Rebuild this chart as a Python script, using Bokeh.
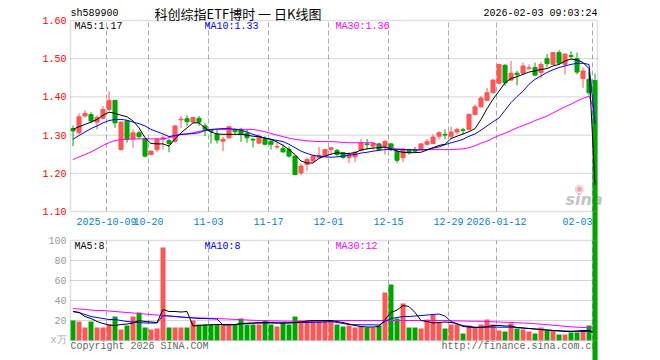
import pandas as pd
from bokeh.plotting import figure
from bokeh.models import (Range1d, LinearAxis, FixedTicker, Label, ColumnDataSource,
                          BoxAnnotation, PrintfTickFormatter)
from bokeh.transform import dodge
from bokeh.embed import file_html
from bokeh.resources import INLINE

# ---------------- data ----------------
holidays = ["2025-10-01", "2025-10-02", "2025-10-03", "2025-10-06", "2025-10-07",
            "2025-10-08", "2026-01-01", "2026-01-02"]
dates = [d.strftime("%Y-%m-%d") for d in pd.bdate_range("2025-09-23", "2026-02-03")
         if d.strftime("%Y-%m-%d") not in holidays]

tick_dates = ["2025-10-09", "2025-10-20", "2025-11-03", "2025-11-17", "2025-12-01",
              "2025-12-15", "2025-12-29", "2026-01-12", "2026-02-03"]
tick_labels = ["2025-10-09", "10-20", "11-03", "11-17", "12-01", "12-15", "12-29",
               "2026-01-12", "02-03"]
price_ticks = [1.10, 1.20, 1.30, 1.40, 1.50, 1.60]
vol_ticks = [0, 20, 40, 60, 80, 100]

opens = [1.317, 1.306, 1.350, 1.354, 1.334, 1.344, 1.367, 1.391, 1.262, 1.337,
         1.290, 1.306, 1.291, 1.249, 1.262, 1.289, 1.286, 1.284, 1.340, 1.343,
         1.334, 1.344, 1.324, 1.313, 1.302, 1.284, 1.293, 1.313, 1.315, 1.304,
         1.289, 1.279, 1.291, 1.284, 1.269, 1.265, 1.262, 1.245, 1.201, 1.223,
         1.232, 1.241, 1.245, 1.262, 1.260, 1.254, 1.241, 1.243, 1.260, 1.277,
         1.271, 1.277, 1.271, 1.277, 1.258, 1.241, 1.260, 1.262, 1.264, 1.276,
         1.278, 1.297, 1.302, 1.297, 1.308, 1.314, 1.315, 1.354, 1.374, 1.391,
         1.411, 1.436, 1.483, 1.444, 1.462, 1.462, 1.474, 1.477, 1.464, 1.500,
         1.485, 1.516, 1.485, 1.508, 1.500, 1.448, 1.446, 1.443]
highs = [1.325, 1.357, 1.365, 1.360, 1.352, 1.376, 1.415, 1.391, 1.336, 1.339,
         1.315, 1.312, 1.292, 1.260, 1.293, 1.299, 1.290, 1.326, 1.350, 1.352,
         1.348, 1.350, 1.332, 1.315, 1.315, 1.296, 1.324, 1.319, 1.319, 1.315,
         1.292, 1.302, 1.297, 1.290, 1.280, 1.276, 1.270, 1.247, 1.226, 1.241,
         1.249, 1.269, 1.264, 1.269, 1.264, 1.256, 1.254, 1.258, 1.290, 1.290,
         1.280, 1.280, 1.286, 1.280, 1.260, 1.267, 1.264, 1.269, 1.279, 1.290,
         1.302, 1.310, 1.315, 1.322, 1.319, 1.319, 1.357, 1.380, 1.402, 1.424,
         1.446, 1.487, 1.485, 1.494, 1.468, 1.490, 1.485, 1.490, 1.492, 1.512,
         1.518, 1.523, 1.514, 1.520, 1.516, 1.477, 1.464, 1.461]
lows = [1.271, 1.302, 1.346, 1.332, 1.315, 1.341, 1.363, 1.319, 1.260, 1.280,
        1.267, 1.289, 1.241, 1.248, 1.255, 1.262, 1.255, 1.280, 1.319, 1.324,
        1.332, 1.324, 1.297, 1.278, 1.278, 1.258, 1.291, 1.302, 1.282, 1.280,
        1.268, 1.276, 1.273, 1.262, 1.264, 1.254, 1.241, 1.195, 1.195, 1.206,
        1.229, 1.239, 1.243, 1.250, 1.245, 1.239, 1.227, 1.229, 1.258, 1.262,
        1.262, 1.261, 1.249, 1.258, 1.227, 1.229, 1.249, 1.254, 1.262, 1.273,
        1.276, 1.289, 1.289, 1.289, 1.302, 1.302, 1.313, 1.352, 1.372, 1.389,
        1.409, 1.433, 1.429, 1.442, 1.430, 1.460, 1.471, 1.455, 1.450, 1.477,
        1.484, 1.485, 1.459, 1.500, 1.459, 1.424, 1.404, 0.0]
closes = [1.311, 1.348, 1.357, 1.337, 1.346, 1.367, 1.391, 1.332, 1.334, 1.289,
          1.306, 1.296, 1.245, 1.258, 1.289, 1.293, 1.278, 1.324, 1.342, 1.335,
          1.346, 1.334, 1.315, 1.310, 1.287, 1.289, 1.322, 1.309, 1.302, 1.293,
          1.287, 1.297, 1.276, 1.276, 1.270, 1.256, 1.245, 1.197, 1.219, 1.236,
          1.245, 1.247, 1.262, 1.267, 1.249, 1.241, 1.249, 1.255, 1.280, 1.275,
          1.278, 1.262, 1.284, 1.262, 1.234, 1.262, 1.254, 1.258, 1.277, 1.283,
          1.295, 1.306, 1.300, 1.308, 1.315, 1.312, 1.354, 1.374, 1.397, 1.411,
          1.444, 1.485, 1.437, 1.462, 1.458, 1.481, 1.476, 1.457, 1.485, 1.487,
          1.516, 1.488, 1.512, 1.506, 1.465, 1.468, 1.411, 0.0]
ma5 = [1.315, 1.322, 1.328, 1.334, 1.341, 1.352, 1.360, 1.357, 1.352, 1.348,
       1.337, 1.319, 1.293, 1.278, 1.277, 1.277, 1.271, 1.290, 1.306, 1.319,
       1.332, 1.332, 1.319, 1.308, 1.303, 1.302, 1.302, 1.302, 1.302, 1.300,
       1.297, 1.296, 1.292, 1.289, 1.282, 1.273, 1.262, 1.249, 1.232, 1.227,
       1.227, 1.239, 1.245, 1.250, 1.254, 1.252, 1.252, 1.254, 1.261, 1.264,
       1.266, 1.267, 1.269, 1.264, 1.258, 1.255, 1.254, 1.254, 1.255, 1.261,
       1.267, 1.273, 1.276, 1.291, 1.297, 1.303, 1.309, 1.317, 1.341, 1.369,
       1.394, 1.415, 1.437, 1.448, 1.453, 1.459, 1.465, 1.468, 1.472, 1.474,
       1.481, 1.485, 1.494, 1.499, 1.497, 1.490, 1.474, 1.17]
ma10 = [1.289, 1.299, 1.308, 1.317, 1.324, 1.332, 1.338, 1.341, 1.341, 1.339,
        1.334, 1.330, 1.324, 1.315, 1.309, 1.303, 1.296, 1.299, 1.302, 1.303,
        1.304, 1.306, 1.312, 1.315, 1.316, 1.317, 1.317, 1.315, 1.313, 1.308,
        1.302, 1.297, 1.292, 1.289, 1.286, 1.283, 1.276, 1.267, 1.258, 1.252,
        1.247, 1.245, 1.243, 1.242, 1.243, 1.245, 1.248, 1.249, 1.253, 1.255,
        1.258, 1.260, 1.262, 1.262, 1.262, 1.262, 1.262, 1.261, 1.261, 1.262,
        1.266, 1.269, 1.275, 1.280, 1.284, 1.289, 1.297, 1.303, 1.313, 1.324,
        1.335, 1.345, 1.365, 1.385, 1.401, 1.415, 1.433, 1.446, 1.455, 1.464,
        1.471, 1.477, 1.481, 1.485, 1.488, 1.488, 1.485, 1.33]
ma30 = [1.236, 1.243, 1.249, 1.256, 1.264, 1.273, 1.280, 1.286, 1.288, 1.289,
        1.290, 1.290, 1.290, 1.290, 1.290, 1.290, 1.293, 1.297, 1.302, 1.303,
        1.306, 1.310, 1.312, 1.314, 1.315, 1.315, 1.315, 1.315, 1.315, 1.315,
        1.315, 1.312, 1.309, 1.304, 1.300, 1.296, 1.292, 1.289, 1.287, 1.285,
        1.284, 1.283, 1.283, 1.283, 1.282, 1.281, 1.280, 1.280, 1.280, 1.280,
        1.280, 1.273, 1.267, 1.265, 1.264, 1.263, 1.262, 1.262, 1.262, 1.262,
        1.262, 1.262, 1.262, 1.262, 1.263, 1.264, 1.267, 1.272, 1.279, 1.284,
        1.292, 1.299, 1.305, 1.312, 1.319, 1.325, 1.331, 1.338, 1.344, 1.350,
        1.358, 1.366, 1.374, 1.381, 1.389, 1.396, 1.402, 1.36]
volumes = [20, 19, 13, 19, 13, 13, 16, 24, 11, 15,
           24, 28, 13, 11, 12, 93, 13, 13, 13, 13,
           20, 16, 16, 16, 16, 16, 16, 16, 22, 16,
           16, 16, 20, 16, 14, 18, 16, 24, 20, 20,
           20, 20, 20, 20, 16, 14, 15, 13, 14, 13,
           13, 15, 48, 56, 22, 37, 13, 13, 12, 21,
           26, 18, 12, 16, 16, 7, 15, 13, 16, 21,
           16, 10, 9, 17, 12, 11, 9, 7, 13, 10,
           10, 6, 6, 8, 8, 10, 15, 0.3]
vma5 = [29, 28, 24, 22, 19, 17, 15.5, 15, 16, 16.5,
        17.5, 20, 19, 18.5, 18, 31, 29, 29, 28.5, 29,
        14.5, 15, 15.5, 15.7, 16, 16, 16, 16, 17, 17.3,
        17.5, 18, 18, 18, 17.5, 17.5, 17.5, 18, 18.5, 19.5,
        20, 20, 20, 20, 19, 18, 16.5, 15, 14, 13.5,
        13.5, 14, 21, 28, 30.5, 35, 34, 28, 20, 19,
        17.5, 18, 18.5, 18, 17, 14, 13.5, 13, 13, 14,
        15, 15, 14.5, 14.5, 13, 12.5, 12, 11.5, 11, 10.5,
        10, 9.5, 9, 9, 9.5, 10, 10, 8]
vma10 = [29, 28, 26, 24, 23, 22, 21, 21, 20, 19,
         18.5, 18, 17.5, 17.5, 17.5, 25, 24.5, 24, 23.5, 23,
         22.5, 22, 22, 21.7, 21.5, 15.5, 15.5, 16, 16.5, 17,
         17.3, 17.3, 17.5, 17.5, 17.5, 17.5, 17.7, 18, 18, 18,
         18.2, 18.3, 18.5, 19, 18, 17, 16, 15.8, 15.7, 15.7,
         15.7, 15.5, 19, 22, 23, 24, 24, 24.5, 25, 25.5,
         26, 26.5, 24.5, 19, 16.5, 15, 14, 13.3, 13.3, 13.3,
         13.5, 13.3, 13.3, 13.3, 13, 12.5, 12, 11.5, 11, 10.5,
         10, 9.8, 9.5, 9.3, 9.2, 9, 9, 8]
vma30 = [32, 31.5, 31, 30.5, 30, 30, 29.5, 29, 28.5, 28,
         27.5, 27, 26.5, 26, 25.5, 25, 24.5, 24, 23.5, 23,
         22.8, 22.6, 22.4, 22.2, 22, 21.7, 21.4, 21.1, 20.8, 20.5,
         20.2, 20, 19.8, 19.6, 19.5, 19.4, 19.3, 19.3, 19.3, 19.3,
         19.3, 19.3, 19.5, 20, 20, 20, 20, 20, 20, 20,
         20, 20, 20, 20, 20, 20, 20, 20, 20, 20,
         20, 20, 20, 19.8, 19.6, 19.5, 19.3, 19.3, 19.2, 19,
         18.7, 18.5, 18.2, 18, 17.8, 17.5, 17.2, 16.8, 16.3, 15.8,
         15.3, 14.8, 14.2, 13.7, 13.3, 13, 12.8, 12.5]

ma_now = {"MA5": "1.17", "MA10": "1.33", "MA30": "1.36"}
vma_now = {"MA5": "8", "MA10": "8", "MA30": "12"}

# ---------------- styling / layout ----------------
RED = "#ff5555"
GREEN = "#00a600"
MONO = "Liberation Mono"
GRID = "#a8a8a8"
BORDER = "#999999"

W, H = 640, 360            # canvas == frame
LEFT = 70                  # panel left edge (px)
PX_PER_DAY = 6
PANEL_W = 527              # panel width (px)
PRICE_BOTTOM_PX = 211      # y of 1.10
PX_PER_PRICE = 382         # px per 1.00
VOL_ZERO_PX = 340          # y of volume 0, 1 px per unit

idx = list(range(len(dates)))
tick_idx = [dates.index(d) for d in tick_dates]
colors = [RED if c >= o else GREEN for o, c in zip(opens, closes)]
body_top = [max(o, c) for o, c in zip(opens, closes)]
body_bot = [min(o, c) for o, c in zip(opens, closes)]

src = ColumnDataSource(dict(idx=idx, high=highs, low=lows, top=body_top, bot=body_bot,
                            color=colors, vol=volumes, ma5=ma5, ma10=ma10, ma30=ma30,
                            vma5=vma5, vma10=vma10, vma30=vma30))

x_range = Range1d(-LEFT / PX_PER_DAY, (W - LEFT) / PX_PER_DAY)
y_range = Range1d(price_ticks[0] - (H - PRICE_BOTTOM_PX) / PX_PER_PRICE,
                  price_ticks[0] + PRICE_BOTTOM_PX / PX_PER_PRICE)
vol_range = Range1d(-(H - VOL_ZERO_PX), VOL_ZERO_PX)
x0, x1 = 0, PANEL_W / PX_PER_DAY   # panel extent in day units

p = figure(width=W, height=H, x_range=x_range, y_range=y_range,
           output_backend="svg", toolbar_location=None,
           x_axis_location=None, y_axis_location=None,
           min_border_left=0, min_border_right=0, min_border_top=0, min_border_bottom=0)
p.extra_y_ranges = {"vol": vol_range}
p.grid.visible = False
p.outline_line_color = None
p.background_fill_color = "white"
p.border_fill_color = "white"

xs = dodge("idx", 0.42, range=p.x_range)

# grid lines
p.segment(x0=x0, x1=x1, y0=price_ticks[1:-1], y1=price_ticks[1:-1],
          line_color=GRID, line_dash="1 1", line_width=1)
p.segment(x0=x0, x1=x1, y0=vol_ticks[1:-1], y1=vol_ticks[1:-1],
          line_color=GRID, line_dash="1 1", line_width=1, y_range_name="vol")
p.segment(x0=tick_idx, x1=tick_idx, y0=price_ticks[0], y1=price_ticks[-1],
          line_color=GRID, line_dash="5 3", line_width=1)
p.segment(x0=tick_idx, x1=tick_idx, y0=vol_ticks[0], y1=vol_ticks[-1],
          line_color=GRID, line_dash="5 3", line_width=1, y_range_name="vol")

# panel borders
p.add_layout(BoxAnnotation(left=x0, right=x1, bottom=price_ticks[0], top=price_ticks[-1],
                           fill_alpha=0, line_color=BORDER, line_width=1.5))
p.add_layout(BoxAnnotation(left=x0, right=x1, bottom=vol_ticks[0], top=vol_ticks[-1],
                           fill_alpha=0, line_color=BORDER, line_width=1.5,
                           y_range_name="vol"))

# texts that sit under the glyphs
def lab(x, y, text, color="black", align="left", font=MONO, size="10px",
        style="normal", level="annotation"):
    p.add_layout(Label(x=x, y=H - y, x_units="screen", y_units="screen", text=text,
                       text_font=font, text_font_size=size, text_color=color,
                       text_font_style=style, text_baseline="middle", text_align=align,
                       level=level))

lab(LEFT, 346, "Copyright 2026 SINA.COM", "#666666", level="underlay")
lab(LEFT + PANEL_W, 346, "http://finance.sina.com.cn", "#666666", align="right",
    level="underlay")
lab(579, 188, "◉", "#f2a8a8", align="center", font="DejaVu Sans", size="11px",
    level="underlay")
lab(565, 199, "sina", "#c4c4c4", font="DejaVu Sans", size="16px", style="bold italic",
    level="underlay")

# volume bars + MAs
p.vbar(x=xs, width=0.83, top="vol", bottom=0, fill_color="color", line_color=None,
       source=src, y_range_name="vol")
p.line(x=xs, y="vma30", source=src, line_color="#ff00ff", line_width=1, y_range_name="vol")
p.line(x=xs, y="vma10", source=src, line_color="#0000ff", line_width=1, y_range_name="vol")
p.line(x=xs, y="vma5", source=src, line_color="black", line_width=1, y_range_name="vol")

# candles
p.segment(x0=xs, x1=xs, y0="high", y1="low", line_color="color", line_width=1, source=src)
p.vbar(x=xs, width=0.68, top="top", bottom="bot", fill_color="color", line_color="color",
       line_width=1, source=src)
p.line(x=xs, y="ma30", source=src, line_color="#ff00ff", line_width=1)
p.line(x=xs, y="ma10", source=src, line_color="#0000ff", line_width=1)
p.line(x=xs, y="ma5", source=src, line_color="black", line_width=1)

# axes
def style_axis(ax, color):
    ax.axis_line_color = None
    ax.major_tick_line_color = None
    ax.minor_tick_line_color = None
    ax.major_tick_in = 0
    ax.major_tick_out = 0
    ax.minor_tick_in = 0
    ax.minor_tick_out = 0
    ax.major_label_standoff = 4
    ax.major_label_text_font = MONO
    ax.major_label_text_font_size = "10px"
    ax.major_label_text_color = color

yax = LinearAxis(fixed_location=x0, bounds=(price_ticks[0], price_ticks[-1]),
                 ticker=FixedTicker(ticks=price_ticks),
                 formatter=PrintfTickFormatter(format="%.2f"))
style_axis(yax, "#ff0000")
p.add_layout(yax, "left")

vax = LinearAxis(fixed_location=x0, y_range_name="vol", bounds=(vol_ticks[0], vol_ticks[-1]),
                 ticker=FixedTicker(ticks=vol_ticks[1:]))
style_axis(vax, "#999999")
p.add_layout(vax, "left")

overrides = {t: s for t, s in zip(tick_idx, tick_labels)}
overrides[tick_idx[-1]] = tick_labels[-1] + "\u00a0" * 5
xax = LinearAxis(fixed_location=price_ticks[0], ticker=FixedTicker(ticks=tick_idx),
                 major_label_overrides=overrides)
style_axis(xax, "#0a80d0")
xax.major_label_standoff = 5
p.add_layout(xax, "below")

# header & legend texts
lab(LEFT, 13, "sh589900")
lab(237.5, 12.5, "科创综指ETF博时 一 日K线图", align="center", font="Noto Sans CJK SC",
    size="13px")
lab(LEFT + PANEL_W, 13, "2026-02-03 09:03:24", align="right")
lab(74, 26, "MA5:" + ma_now["MA5"], "black")
lab(204, 26, "MA10:" + ma_now["MA10"], "#0000ff")
lab(335, 26, "MA30:" + ma_now["MA30"], "#ff00ff")
lab(74, 246, "MA5:" + vma_now["MA5"], "black")
lab(204, 246, "MA10:" + vma_now["MA10"], "#0000ff")
lab(335, 246, "MA30:" + vma_now["MA30"], "#ff00ff")
lab(66, 340, "x万", "#aaaaaa", align="right")

open("out.html", "w").write(file_html(p, INLINE))
